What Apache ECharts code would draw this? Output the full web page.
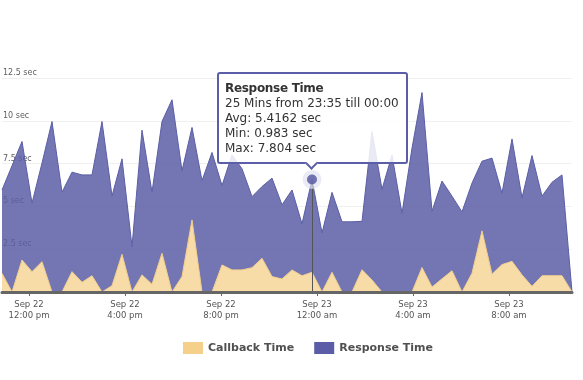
<!DOCTYPE html>
<html><head><meta charset="utf-8">
<script src="https://cdn.jsdelivr.net/npm/echarts@6/dist/echarts.min.js"></script>
<style>html,body{margin:0;padding:0;background:#fff}#c{width:583px;height:380px}</style>
</head><body><div id="c"></div>
<script>
// ---- data ----
const seriesNames = ['Callback Time', 'Response Time'];
const startMinute = 652.5;   // minutes after Sep 22 00:00 (centre of first 25-min bucket)
const stepMinutes = 25;
const callbackTime = [1.09,0,1.87,1.19,1.77,0,0,1.19,0.57,0.95,0,0.37,2.2,0,1.0,0.45,2.26,0,0.9,4.21,0,0,1.58,1.29,1.29,1.42,1.97,0.9,0.76,1.29,0.95,1.15,0,1.15,0,0,1.3,0.7,0,0,0,0,1.43,0.29,0.77,1.24,0,1.1,3.57,1.04,1.6,1.79,1.0,0.33,0.95,0.95,0.95,0];
const responseTime = [4.87,7.37,6.92,4.00,5.76,9.96,5.83,5.81,6.27,5.89,9.96,5.24,5.58,2.65,8.45,5.38,7.70,11.23,6.18,5.40,6.50,8.15,4.64,6.71,5.91,4.15,4.19,5.75,4.33,4.67,3.03,5.4162,3.45,4.67,4.10,4.10,2.83,8.67,6.00,8.00,4.60,8.40,10.22,4.43,5.71,4.36,4.68,5.26,4.07,6.78,4.17,7.15,4.50,7.64,4.65,5.46,5.89,0];
const tickMinutes = [720, 960, 1200, 1440, 1680, 1920];
const tickLabels = ['Sep 22\n12:00 pm','Sep 22\n4:00 pm','Sep 22\n8:00 pm','Sep 23\n12:00 am','Sep 23\n4:00 am','Sep 23\n8:00 am'];
const hoverIndex = 31;
const hoverMin = 0.983;
const hoverMax = 7.804;

// ---- build (response is stacked on top of callback) ----
const times = callbackTime.map((_, i) => startMinute + i * stepMinutes);
const cbData = times.map((t, i) => [t, callbackTime[i]]);
const stackedData = times.map((t, i) => [t, +(callbackTime[i] + responseTime[i]).toFixed(4)]);
const hoverT = times[hoverIndex];
const hoverTotal = stackedData[hoverIndex][1];
function hm(m) {
  m = ((m % 1440) + 1440) % 1440;
  const h = Math.floor(m / 60), mm = Math.round(m % 60);
  return String(h).padStart(2, '0') + ':' + String(mm).padStart(2, '0');
}
const FONT = 'DejaVu Sans, Verdana, sans-serif';
const C_CB = '#f5d08a', C_RS = '#5b5ea6';

const chart = echarts.init(document.getElementById('c'));
chart.setOption({
  animation: false,
  textStyle: { fontFamily: FONT },
  grid: { left: 0, right: 11, top: 78, bottom: 88 },
  xAxis: {
    type: 'value', min: times[0], max: times[times.length - 1], z: 10,
    splitLine: { show: false },
    axisLine: { show: true, lineStyle: { color: '#666', width: 3 } },
    axisTick: { show: true, length: 4, lineStyle: { color: '#666', width: 1 }, customValues: tickMinutes },
    axisLabel: {
      customValues: tickMinutes, fontFamily: FONT, fontSize: 8.5, color: '#555', lineHeight: 11, margin: 7,
      formatter: v => { const i = tickMinutes.indexOf(v); return i >= 0 ? tickLabels[i] : ''; }
    }
  },
  yAxis: {
    type: 'value', min: 0, max: 12.5, interval: 2.5,
    axisLine: { show: false }, axisTick: { show: false },
    splitLine: { show: true, lineStyle: { color: '#f0f0f0', width: 1 } },
    axisLabel: {
      inside: true, margin: 1, verticalAlign: 'bottom', padding: [0, 0, 1, 0],
      fontFamily: FONT, fontSize: 8, color: '#606060',
      formatter: v => v === 0 ? '' : v + ' sec'
    }
  },
  legend: {
    left: 178, top: 337, itemWidth: 20, itemHeight: 12, itemGap: 20, icon: 'rect',
    textStyle: { fontFamily: FONT, fontSize: 11, fontWeight: 'bold', color: '#505050' },
    data: [
      { name: seriesNames[0], itemStyle: { color: C_CB } },
      { name: seriesNames[1], itemStyle: { color: C_RS } }
    ]
  },
  tooltip: {
    trigger: 'item', triggerOn: 'none', alwaysShowContent: true, transitionDuration: 0,
    backgroundColor: 'rgba(255,255,255,0.85)', borderColor: C_RS, borderWidth: 2, borderRadius: 3,
    padding: [7, 7, 6, 6],
    textStyle: { fontFamily: FONT, fontSize: 12, color: '#333' },
    extraCssText: 'box-shadow:none;line-height:15px;white-space:nowrap;',
    position: (pt, params, dom, rect, size) => [pt[0] - size.contentSize[0] / 2, pt[1] - size.contentSize[1] - 16],
    formatter: () =>
      '<div style="font-weight:bold;letter-spacing:-0.3px">' + seriesNames[1] + '</div>' +
      '25 Mins from ' + hm(hoverT - stepMinutes / 2) + ' till ' + hm(hoverT + stepMinutes / 2) + '<br>' +
      'Avg: ' + responseTime[hoverIndex] + ' sec<br>' +
      'Min: ' + hoverMin + ' sec<br>' +
      'Max: ' + hoverMax + ' sec' +
      '<div style="position:absolute;left:50%;margin-left:-5px;bottom:-6px;width:7px;height:7px;background:#fff;' +
      'border-right:2px solid ' + C_RS + ';border-bottom:2px solid ' + C_RS + ';transform:rotate(45deg);"></div>'
  },
  series: [
    {
      name: seriesNames[1], type: 'line', data: stackedData, showSymbol: false, symbol: 'none',
      itemStyle: { color: C_RS }, lineStyle: { color: C_RS, width: 1 },
      areaStyle: { color: C_RS, opacity: 0.85 }, silent: true, z: 2
    },
    {
      name: seriesNames[0], type: 'line', data: cbData, showSymbol: false, symbol: 'none',
      itemStyle: { color: C_CB }, lineStyle: { color: '#f3cf8c', width: 1 },
      areaStyle: { color: '#f7dca7', opacity: 1 }, silent: true, z: 3
    },
    {
      name: 'halo', type: 'scatter', data: [[hoverT, hoverTotal]], symbolSize: 19, silent: true, z: 5,
      itemStyle: { color: 'rgba(226,226,240,0.85)' },
      markLine: {
        silent: true, symbol: ['none', 'none'], label: { show: false },
        lineStyle: { color: '#555', width: 1, type: 'solid' },
        data: [[{ coord: [hoverT, 0] }, { coord: [hoverT, hoverTotal] }]]
      }
    },
    {
      name: 'hover', type: 'scatter', data: [[hoverT, hoverTotal]], symbolSize: 10, z: 6,
      itemStyle: { color: '#5053a0' }
    }
  ]
});
chart.dispatchAction({ type: 'showTip', seriesIndex: 3, dataIndex: 0 });
</script></body></html>
